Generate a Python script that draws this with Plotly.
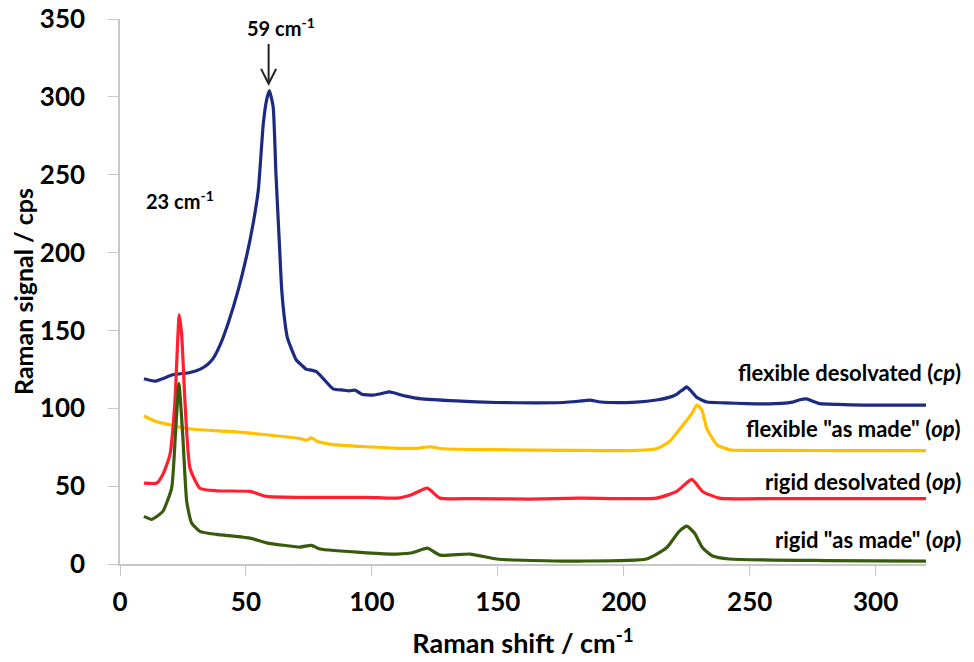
import plotly.graph_objects as go

# Raman shift (cm-1) / signal (cps)
blue_x = [9.5, 14, 21, 27.8, 31.7, 35, 37, 39.7, 43, 47, 50.3, 52.9, 54.9, 56.9, 58.2, 59.3,
          60.8, 61.9, 63.2, 64.2, 65.5, 66.5, 68.1, 70, 72.1, 74, 76, 78, 81, 84.6,
          88.5, 91, 93.3, 96, 100.5, 104, 107, 113, 120, 133.6, 149.5, 165, 176, 182,
          186.5, 190, 194.4, 205, 213, 218, 221, 223.5, 225, 226.5, 229, 233, 240, 248.8,
          260, 267, 270, 272.6, 275, 277.8, 285, 295, 305, 320.6]
blue_y = [119, 117.5, 121.5, 123, 125, 128.5, 132, 140.5, 155, 176.4, 198, 219, 240, 283, 298, 304,
          293.7, 251, 208.4, 176.4, 155, 145, 138, 131, 127.7, 125, 124.5, 123.5, 118.5, 112.5,
          111.7, 111.2, 111.7, 109, 108.5, 109.5, 110.5, 108, 106, 104.7, 103.7, 103.5, 103.7, 104.5,
          105.3, 104.2, 103.7, 104, 105.3, 107, 109, 112, 113.7, 111.5, 107, 104, 103.5, 103,
          103, 104, 105.5, 106, 104.5, 103, 102.5, 102, 102, 102]

orange_x = [9.5, 14.6, 19.8, 26.5, 31.7, 45, 58.2, 71.4, 74, 76, 78, 84.6, 98, 111, 118, 123,
            128, 149.6, 180, 202, 213, 218, 223.6, 227, 229, 231, 233, 237, 242, 260, 290, 320.6]
orange_y = [95, 91.3, 89.4, 87, 86.2, 85, 83, 80.6, 79.5, 81, 79, 76.7, 75.3, 74.3, 74.3, 75.3,
            74, 73.4, 73, 72.8, 74, 78.5, 89.4, 96.6, 102, 99, 87, 76.6, 73.4, 73, 72.8, 72.8]

red_x = [9.5, 14.6, 17, 19.8, 21.8, 23, 23.5, 24.5, 25.8, 27.8, 31.7, 38.5, 51.6, 58.2, 71.4,
         98, 110, 116, 122, 127, 140, 162.7, 182.5, 213, 221, 227, 231.3, 238, 260, 290, 320.6]
red_y = [52, 52, 57.5, 70, 104, 147, 160, 147, 104, 61.5, 48.7, 47, 46.6, 43.4, 42.8,
         42.8, 42.3, 44.7, 48.7, 42.3, 42, 41.7, 42.3, 42.3, 46.6, 54.3, 46.6, 42.3, 42, 42, 42]

green_x = [9.5, 12.6, 17, 20.5, 22, 23.4, 24.9, 26.5, 28.4, 31.7, 38.4, 45, 51.6, 58.2, 71.4,
           76, 79.4, 98, 110, 116, 122, 127, 139, 149.6, 176, 182.5, 209, 217, 222, 225, 228,
           231.3, 235.3, 242, 280, 320.6]
green_y = [30.6, 28.7, 33.8, 48.7, 83, 115.8, 83, 40, 26.4, 21, 19, 17.9, 16.6, 13.6, 10.9,
           12, 9.6, 7.2, 6.4, 7.2, 10.2, 5.7, 6.4, 3.2, 1.9, 1.9, 3.2, 10.4, 21, 24.3, 20,
           10.4, 5.1, 3.2, 2.2, 1.9]

series_names = ['flexible desolvated (<i>cp</i>)', 'flexible "as made" (<i>op</i>)',
                'rigid desolvated (<i>op</i>)', 'rigid "as made" (<i>op</i>)']
label_y = [123, 87, 53, 16]
colors = ['#1c2a82', '#ffc000', '#ff1f2e', '#375a0c']

xs = [blue_x, orange_x, red_x, green_x]
ys = [blue_y, orange_y, red_y, green_y]

FONT = 'Lato'

fig = go.Figure()
for x, y, c, n in zip(xs, ys, colors, series_names):
    fig.add_trace(go.Scatter(x=x, y=y, mode='lines', name=n,
                             line=dict(color=c, width=3.2, shape='spline', smoothing=0.5)))

# curve labels at the right end
for n, ly in zip(series_names, label_y):
    fig.add_annotation(x=1.046, xref='paper', y=ly, yref='y', text='<b>' + n + '</b>',
                       showarrow=False, xanchor='right', yanchor='middle',
                       font=dict(family=FONT, size=22, color='black'))

# peak labels
fig.add_annotation(x=64.1, y=345, text='<b>59 cm<sup>-1</sup></b>', showarrow=False,
                   font=dict(family=FONT, size=20, color='black'))
fig.add_annotation(x=23.8, y=234, text='<b>23 cm<sup>-1</sup></b>', showarrow=False,
                   font=dict(family=FONT, size=20, color='black'))
# arrow pointing at the 59 cm-1 peak
fig.add_shape(type='line', x0=59, x1=59, y0=334, y1=309, line=dict(color='#222', width=2))
fig.add_shape(type='path', path='M 56,318 L 59,308.4 L 62,318',
              line=dict(color='#222', width=2))

# page body has an 8px margin, so the figure is 8px smaller than the window
fig.update_layout(
    width=966, height=654,
    margin=dict(l=112, r=48, t=11, b=98),
    paper_bgcolor='white', plot_bgcolor='white',
    showlegend=False,
    font=dict(family=FONT, color='black'),
)
fig.update_xaxes(range=[0, 320], tickvals=[0, 50, 100, 150, 200, 250, 300], automargin=False,
                 showgrid=False, zeroline=False, showline=True, linecolor='#c8c8c8', linewidth=1.5,
                 ticks='outside', ticklen=10, tickcolor='#c8c8c8', ticklabelstandoff=4,
                 tickfont=dict(family=FONT, size=26, weight='bold'),
                 title=dict(text='<b>Raman shift / cm<sup>-1</sup></b>', standoff=18,
                            font=dict(family=FONT, size=27)))
fig.update_yaxes(range=[0, 350], tickvals=[0, 50, 100, 150, 200, 250, 300, 350], automargin=False,
                 showgrid=False, zeroline=False, showline=True, linecolor='#c8c8c8', linewidth=1.5,
                 ticks='outside', ticklen=10, tickcolor='#c8c8c8', ticklabelstandoff=18,
                 ticklabeloverflow='allow',
                 tickfont=dict(family=FONT, size=26, weight='bold'),
                 title=dict(text='<b>Raman signal / cps</b>', standoff=0,
                            font=dict(family=FONT, size=25)))

fig.write_html('out.html')
